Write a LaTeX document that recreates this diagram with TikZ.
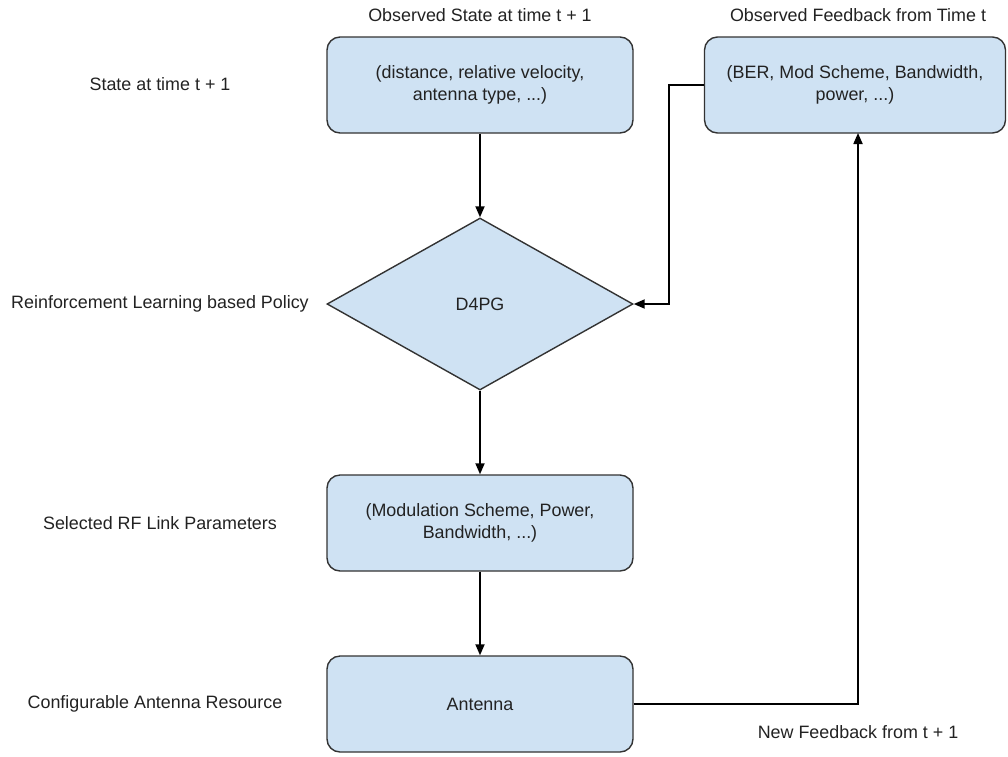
\documentclass[tikz,border=0pt]{standalone}
\usepackage{fontspec}
\setmainfont{Liberation Sans}
\usetikzlibrary{shapes.geometric,arrows.meta}
\definecolor{boxfill}{HTML}{CFE2F3}
\definecolor{boxline}{HTML}{333333}
\definecolor{txt}{HTML}{222222}
\tikzset{
  stepbox/.style={draw=boxline, line width=1.4pt, fill=boxfill, rounded corners=13pt,
    minimum width=306pt, minimum height=96pt, align=center, text=txt, inner sep=0pt},
  decision/.style={draw=boxline, line width=1.4pt, fill=boxfill, shape=diamond, aspect=1.78,
    minimum width=306pt, minimum height=172pt, inner sep=0pt, text=txt},
  lbl/.style={text=txt, inner sep=0pt, align=center},
  flow/.style={draw=black, line width=1.8pt, -{Triangle[length=11pt,width=9pt]}},
  plain/.style={draw=black, line width=1.8pt}
}
\begin{document}
\begin{tikzpicture}[x=1pt,y=-1pt, font=\fontsize{17.9}{22}\selectfont]
\useasboundingbox (0,0) rectangle (1008,756);
\node[stepbox] (state) at (480,85) {(distance, relative velocity,\\antenna type, ...)};
\node[stepbox, minimum width=301pt] (fb) at (855,85) {(BER, Mod Scheme, Bandwidth,\\power, ...)};
\node[decision] (pol) at (480,304) {D4PG};
\node[stepbox] (rf) at (480,523) {(Modulation Scheme, Power,\\Bandwidth, ...)};
\node[stepbox] (ant) at (480,704) {Antenna};

\node[lbl] (t1) at (480,15) {Observed State at time t + 1};
\node[lbl] (t2) at (858,15) {Observed Feedback from Time t};
\node[lbl] (l1) at (160,84) {State at time t + 1};
\node[lbl] (l2) at (160,304) {Reinforcement Learning based Policy};
\node[lbl] (l3) at (160,523) {Selected RF Link Parameters};
\node[lbl] (l4) at (155,704) {Configurable Antenna Resource};
\node[lbl] (l5) at (858,732) {New Feedback from t + 1};

\coordinate (fbA) at (669,85);
\coordinate (fbB) at (669,304);
\coordinate (anA) at (858,704);
\coordinate (anB) at (858,133);

\draw[flow] (state) -- (pol);
\draw[flow] (pol) -- (rf);
\draw[flow] (rf) -- (ant);
\draw[flow] (fb.west) -- (fbA) -- (fbB) -- (pol.east);
\draw[flow] (ant.east) -- (anA) -- (anB);
\end{tikzpicture}
\end{document}
